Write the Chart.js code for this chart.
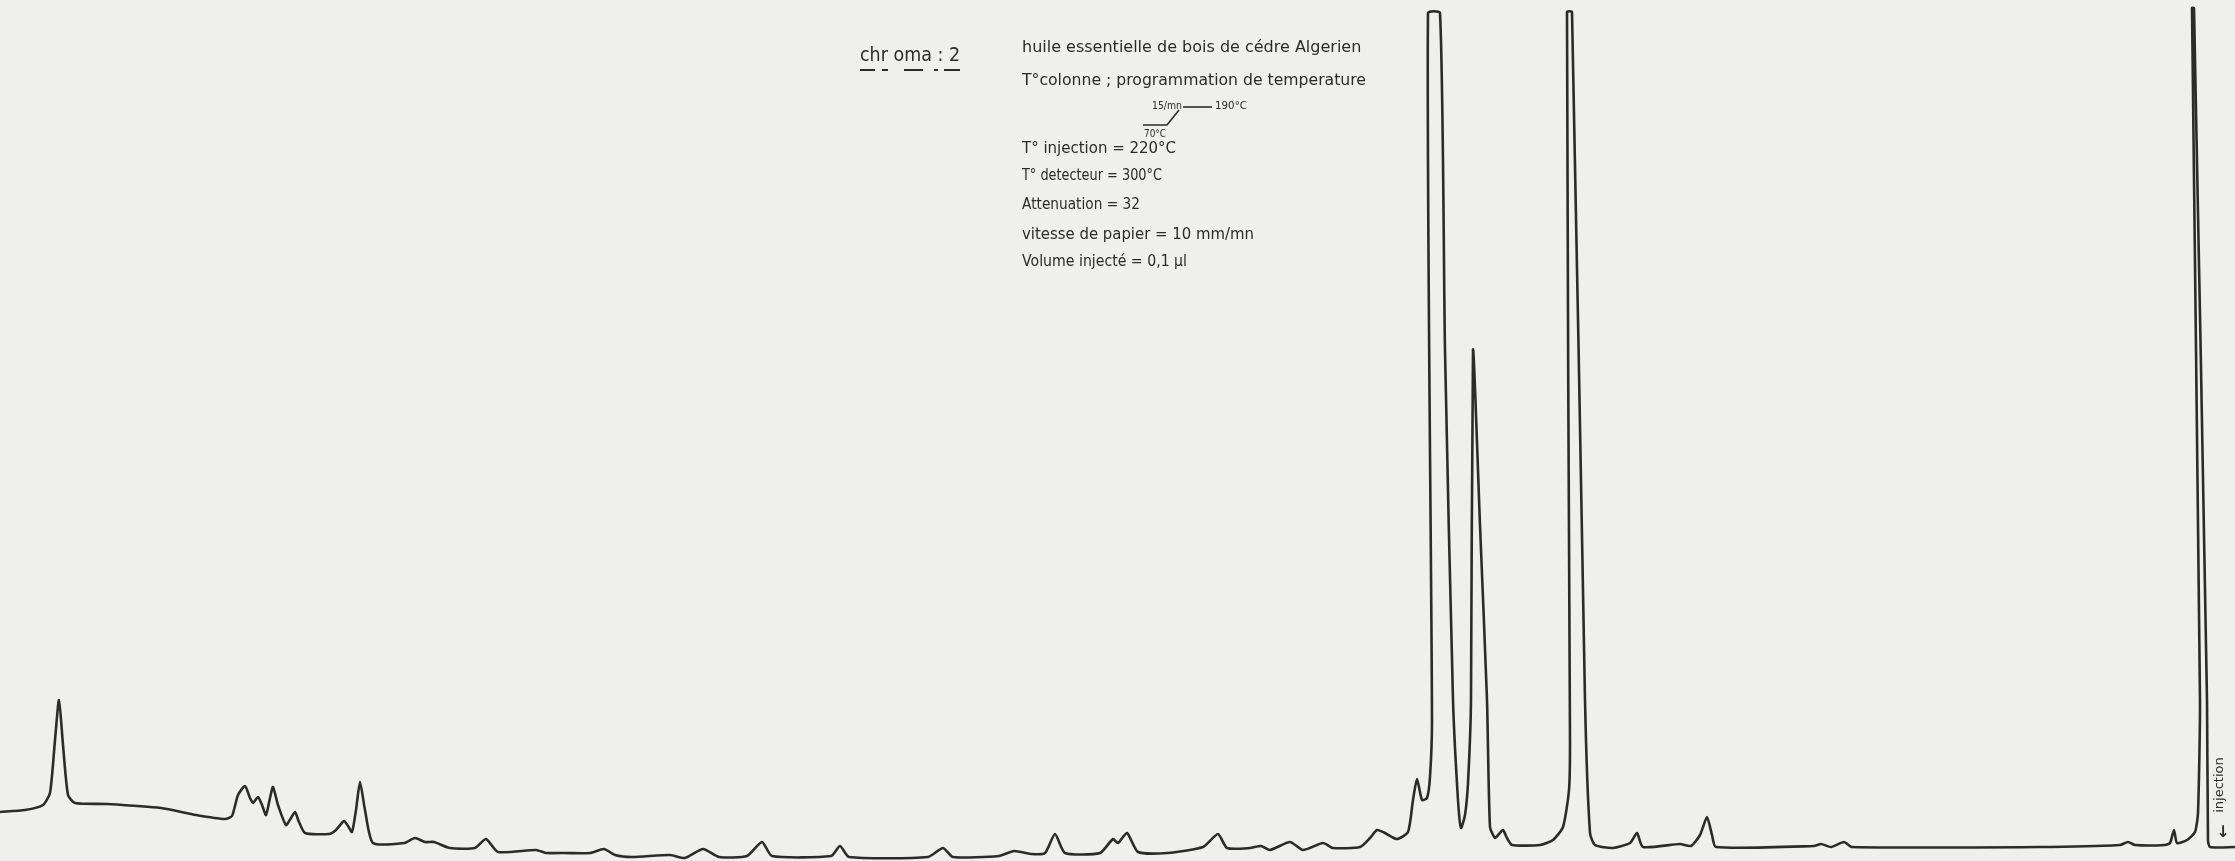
<!DOCTYPE html>
<html>
<head>
<meta charset="utf-8">
<title>chroma : 2</title>
<script src="https://cdn.jsdelivr.net/npm/chart.js@4.4.1/dist/chart.umd.min.js"></script>
<style>
  html, body { margin: 0; padding: 0; background: #efefed; overflow: hidden; }
  #wrap { width: 2235px; height: 861px; position: relative; }
</style>
</head>
<body>
<div id="wrap"><canvas id="chroma" width="2235" height="861"></canvas></div>
<script>
// Paper size (recorder chart, no printed axes)
const PAPER_W = 2235;
const PAPER_H = 861;

// Trace, in four pieces (position along paper, pen height)
const earlyPos    = [0, 25, 43, 50, 55, 59, 63, 68, 75, 107, 161, 196, 225, 232, 238, 245, 250, 253, 258, 262, 266, 270, 273, 278, 286, 291, 295, 299, 305, 329, 336, 344, 348, 352, 356, 360, 365, 373, 404, 415, 425, 434, 450, 475, 486, 498, 536, 546, 565];
const earlySignal = [49, 51, 56, 68, 121, 161, 116, 66, 58, 57, 53, 46, 42, 45, 66, 75, 63, 58, 64, 56, 46, 63, 74, 56, 36, 43, 49, 39, 28, 27, 31, 40, 35, 29, 51, 79, 51, 18, 18, 23, 19, 19, 13, 13, 22, 9, 11, 8, 8];

const midPos    = [590, 604, 615, 632, 670, 685, 703, 719, 747, 762, 772, 831, 840, 849, 928, 943, 953, 999, 1014, 1032, 1045, 1055, 1065, 1100, 1113, 1118, 1127, 1138, 1167, 1203, 1218, 1227, 1250, 1261, 1270, 1290, 1303, 1323, 1333, 1360, 1370, 1377, 1385, 1397, 1408];
const midSignal = [8, 12, 6, 4, 6, 3, 12, 4, 5, 19, 5, 5, 15, 4, 4, 13, 4, 5, 10, 7, 8, 27, 8, 8, 22, 18, 28, 9, 8, 14, 27, 13, 13, 15, 11, 19, 11, 18, 13, 14, 23, 31, 28, 22, 29];

const majorPos    = [1413, 1417, 1422, 1427, 1430, 1432, 1428, 1440, 1445, 1453, 1458, 1461, 1465, 1468, 1471, 1473, 1480, 1487, 1490, 1495, 1499, 1503, 1507, 1512, 1540, 1553, 1563, 1569, 1570, 1567, 1572, 1585, 1590, 1595];
const majorSignal = [61, 82, 61, 63, 84, 141, 848, 848, 511, 161, 61, 33, 46, 78, 161, 511, 336, 161, 34, 23, 27, 31, 23, 16, 16, 21, 34, 71, 121, 849, 849, 161, 28, 16];

const latePos    = [1613, 1630, 1637, 1643, 1680, 1691, 1700, 1707, 1712, 1716, 1814, 1821, 1831, 1844, 1852, 2039, 2120, 2128, 2135, 2165, 2170, 2174, 2177, 2187, 2195, 2198, 2200, 2192, 2194, 2207, 2208, 2210, 2235];
const lateSignal = [13, 18, 28, 14, 17, 15, 26, 44, 26, 14, 15, 17, 14, 19, 14, 14, 16, 19, 16, 16, 18, 31, 18, 21, 29, 48, 161, 853, 853, 161, 21, 14, 14];

// Handwritten notes
const chromaTitle = 'chr oma : 2';
const noteLines = [
  'huile essentielle de bois de cédre Algerien',
  'T°colonne ; programmation de temperature',
  'T° injection = 220°C',
  'T° detecteur = 300°C',
  'Attenuation = 32',
  'vitesse de papier = 10 mm/mn',
  'Volume injecté = 0,1 µl'
];
const rampLabels = ['15/mn', '190°C', '70°C'];
const injectionLabel = 'injection';

const allPos = [...earlyPos, ...midPos, ...majorPos, ...latePos];
const allSignal = [...earlySignal, ...midSignal, ...majorSignal, ...lateSignal];
const tracePoints = allPos.map((x, i) => ({ x: x, y: allSignal[i] }));

const INK = '#2b2b2b';
const PAPER = '#efefed';
const HAND = '"DejaVu Sans"';

// Paper background
const paperPlugin = {
  id: 'paper',
  beforeDraw(chart) {
    const ctx = chart.ctx;
    ctx.save();
    ctx.fillStyle = PAPER;
    ctx.fillRect(0, 0, chart.width, chart.height);
    ctx.restore();
  }
};

// Notes written on the paper (rows are counted from the top of the paper)
const notesPlugin = {
  id: 'notes',
  afterDraw(chart) {
    const ctx = chart.ctx;
    const sx = chart.scales.x;
    const sy = chart.scales.y;
    const px = (v) => sx.getPixelForValue(v);
    const py = (row) => sy.getPixelForValue(PAPER_H - row);

    const write = (text, x, row, size, maxW) => {
      ctx.font = `${size}px ${HAND}`;
      ctx.fillText(text, px(x), py(row), maxW);
    };

    ctx.save();
    ctx.fillStyle = INK;
    ctx.strokeStyle = INK;
    ctx.textAlign = 'left';
    ctx.textBaseline = 'middle';

    // title + dashed underline
    write(chromaTitle, 860, 56, 20, 100);
    ctx.lineWidth = 2;
    [[860, 875], [882, 888], [904, 923], [934, 938], [944, 960]].forEach(([a, b]) => {
      ctx.beginPath();
      ctx.moveTo(px(a), py(70));
      ctx.lineTo(px(b), py(70));
      ctx.stroke();
    });

    // description lines
    const rows = [48, 81, 149, 176, 205, 235, 262];
    const sizes = [16, 16, 15, 15, 15, 15, 15];
    const widths = [344, 344, 154, 140, 118, 232, 165];
    noteLines.forEach((t, i) => write(t, 1022, rows[i], sizes[i], widths[i]));

    // temperature ramp sketch
    write(rampLabels[0], 1152, 106, 10, 30);
    write(rampLabels[1], 1215, 106, 11, 32);
    write(rampLabels[2], 1144, 134, 10, 22);
    ctx.lineWidth = 1.6;
    ctx.beginPath();
    ctx.moveTo(px(1183), py(107));
    ctx.lineTo(px(1212), py(107));
    ctx.stroke();
    ctx.beginPath();
    ctx.moveTo(px(1143), py(125));
    ctx.lineTo(px(1167), py(125));
    ctx.lineTo(px(1179), py(110));
    ctx.stroke();

    // injection mark
    ctx.save();
    ctx.translate(px(2220), py(785));
    ctx.rotate(-Math.PI / 2);
    ctx.textAlign = 'center';
    ctx.font = `13px ${HAND}`;
    ctx.fillText(injectionLabel, 0, 0);
    ctx.restore();
    ctx.textAlign = 'center';
    ctx.font = `bold 16px ${HAND}`;
    ctx.fillText('↓', px(2223), py(833));

    ctx.restore();
  }
};

document.addEventListener('DOMContentLoaded', () => {
  const ctx = document.getElementById('chroma').getContext('2d');
  window.chromaChart = new Chart(ctx, {
    type: 'line',
    data: {
      datasets: [{
        label: 'signal',
        data: tracePoints,
        borderColor: INK,
        borderWidth: 2.6,
        pointRadius: 0,
        tension: 0.2,
        fill: false
      }]
    },
    options: {
      responsive: false,
      maintainAspectRatio: false,
      animation: false,
      devicePixelRatio: 1,
      layout: { padding: 0 },
      scales: {
        x: { type: 'linear', min: 0, max: PAPER_W, display: false },
        y: { type: 'linear', min: 0, max: PAPER_H, display: false }
      },
      plugins: {
        legend: { display: false },
        tooltip: { enabled: false },
        title: { display: false }
      }
    },
    plugins: [paperPlugin, notesPlugin]
  });
});
</script>
</body>
</html>
